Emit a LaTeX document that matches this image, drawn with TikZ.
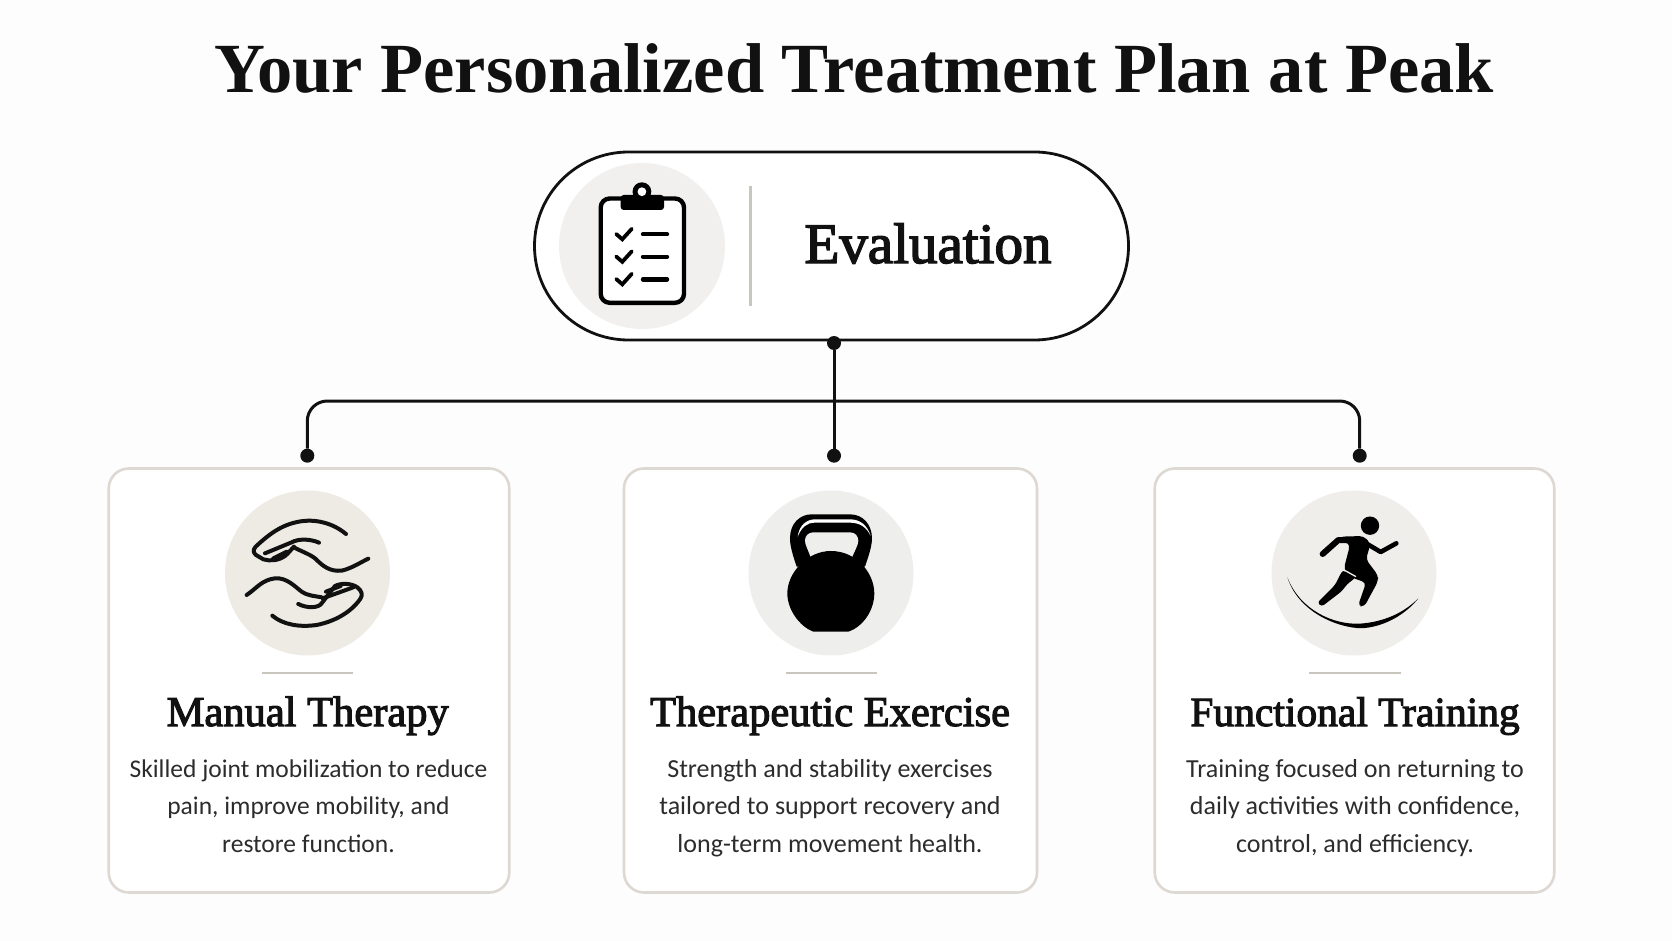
\documentclass[tikz,border=0pt]{standalone}
\usepackage{fontspec}
\newfontfamily\titlefont{Liberation Serif Bold}
\newfontfamily\ttlfont{Liberation Serif}[FakeBold=2.6]
\newfontfamily\bodyfont{Carlito}
\definecolor{ink}{HTML}{111111}
\definecolor{bodyink}{HTML}{2C2C2C}
\definecolor{cardline}{HTML}{DDD8D2}
\definecolor{rulecol}{HTML}{C9C6BF}
\definecolor{warm}{HTML}{EEEBE5}
\definecolor{warmb}{HTML}{F0EEEA}
\definecolor{cool}{HTML}{EEEEEC}
\definecolor{coolb}{HTML}{F1F0EE}
\definecolor{page}{HTML}{FDFDFD}
\tikzset{
  card/.style={draw=cardline,line width=2.6pt,fill=white,rounded corners=20pt,inner sep=0pt,minimum height=424pt},
  disc/.style={circle,inner sep=0pt,minimum size=165pt},
  dotmark/.style={circle,fill=ink,inner sep=0pt,minimum size=14pt},
  wire/.style={draw=ink,line width=3pt},
  sep/.style={draw=rulecol,line width=2.6pt},
  headline/.style={font=\ttlfont\fontsize{42.5}{46}\selectfont,text=ink,inner sep=0pt,anchor=base},
  copy/.style={font=\bodyfont\fontsize{26}{37.5}\selectfont,text=bodyink,inner sep=0pt,anchor=base,align=center},
  handline/.style={draw=ink,line width=4pt,line cap=round,line join=round},
  boardline/.style={draw=black,line width=4.4pt,line cap=round,line join=round},
}
\begin{document}
\begin{tikzpicture}[x=1pt,y=-1pt]
\useasboundingbox[fill=page] (0,0) rectangle (1672,941);
% title
\node[font=\titlefont\fontsize{70.5}{76}\selectfont,text=ink,inner sep=0pt,anchor=base] (title) at (854,92.7) {Your Personalized Treatment Plan at Peak};
% cards
\node[card,minimum width=400.5pt] (c1) at (309,680.5) {};
\node[card,minimum width=413pt] (c2) at (830.5,680.5) {};
\node[card,minimum width=399.5pt] (c3) at (1354.5,680.5) {};
% pill
\node[draw=ink,line width=2.8pt,fill=white,rounded corners=94pt,inner sep=0pt,minimum width=594pt,minimum height=188pt] (pill) at (831.5,246) {};
\node[disc,fill=coolb,minimum size=166pt] (pdisc) at (642,246) {};
\draw[sep] (750.6,186) -- (750.6,306);
\node[font=\ttlfont\fontsize{57}{60}\selectfont,text=ink,inner sep=0pt,anchor=base] (evalt) at (928,263) {Evaluation};
% clipboard
\draw[boardline,fill=white,rounded corners=9pt] (600.7,198.5) rectangle (684,302.8);
\fill[black,rounded corners=3pt] (620.7,195) rectangle (664,210);
\fill[black] (641.9,191.7) circle [radius=9.4pt];
\fill[white] (641.9,191.7) circle [radius=4.4pt];
\foreach \yy in {0,22.5,45}{
  \draw[black,line width=3.8pt,line cap=round,line join=miter,yshift=-\yy pt] (616.2,234) -- (622.3,239.3) -- (631.8,228.8);
  \draw[black,line width=4.4pt,line cap=round,yshift=-\yy pt] (643,234.3) -- (667,234.3);
}
% connectors
\coordinate (bus) at (834,401);
\node[dotmark] (d0) at (834,343) {};
\node[dotmark] (d1) at (307.3,455.7) {};
\node[dotmark] (d2) at (834,455.7) {};
\node[dotmark] (d3) at (1359.7,455.7) {};
\draw[wire] (d0) -- (d2);
\draw[wire,rounded corners=20pt] (d1) -- (d1|-bus) -- (d3|-bus) -- (d3);
% discs
\node[disc,fill=warm] (i1) at (307.5,573) {};
\node[disc,fill=cool] (i2) at (831,573) {};
\node[disc,fill=warmb] (i3) at (1354,573) {};
% hands
\begin{scope}[shift={(220,490)},x=0.3333pt,y=-0.3333pt]
\draw[handline] (378,132) .. controls (340,100) and (290,88) .. (250,93) .. controls (190,100) and (150,130) .. (107,170) .. controls (98,180) and (100,188) .. (108,195) -- (130,208) .. controls (150,214) and (175,212) .. (195,198) .. controls (205,190) and (212,180) .. (222,170);
\draw[handline] (135,190) -- (215,157) .. controls (235,146) and (270,146) .. (297,158);
\draw[handline] (222,172) .. controls (245,185) and (265,190) .. (285,205) .. controls (310,230) and (330,245) .. (365,242) .. controls (395,235) and (420,218) .. (445,206);
\draw[handline] (160,205) -- (200,185);
\draw[handline] (80,315) .. controls (110,295) and (125,270) .. (165,265) .. controls (200,262) and (225,290) .. (245,305) .. controls (265,318) and (285,318) .. (305,322);
\draw[handline] (235,342) .. controls (260,355) and (295,355) .. (305,340) -- (345,288) .. controls (365,278) and (395,280) .. (412,292) .. controls (425,302) and (430,315) .. (420,328) .. controls (390,370) and (340,395) .. (290,405) .. controls (240,412) and (190,405) .. (157,377);
\draw[handline] (308,325) -- (400,292);
\draw[handline] (318,305) -- (362,288);
\end{scope}
% kettlebell
\begin{scope}[shift={(610,450)},x=0.3333pt,y=-0.3333pt]
\fill[black] (560,350) .. controls (550,320) and (540,290) .. (540,265) .. controls (540,220) and (570,193) .. (605,193) -- (720,193) .. controls (760,193) and (786,225) .. (786,265) .. controls (786,290) and (775,320) .. (765,350) -- cycle;
\fill[cool] (603,325) .. controls (595,300) and (585,285) .. (585,272) .. controls (585,258) and (595,247) .. (610,247) -- (720,247) .. controls (735,247) and (745,258) .. (745,272) .. controls (745,285) and (735,300) .. (725,325) -- cycle;
\fill[white] (563,260) .. controls (568,225) and (590,208) .. (615,208) -- (720,208) .. controls (750,208) and (772,225) .. (782,258) .. controls (770,232) and (750,218) .. (720,218) -- (615,218) .. controls (590,218) and (575,232) .. (563,260) -- cycle;
\fill[black] (610,545) -- (715,545) .. controls (760,530) and (793,480) .. (793,430) .. controls (793,370) and (740,303) .. (663,303) .. controls (590,303) and (532,370) .. (532,430) .. controls (532,480) and (570,530) .. (610,545) -- cycle;
\end{scope}
% runner
\begin{scope}[shift={(1270,490)},x=0.3333pt,y=-0.3333pt]
\fill[black] (300,107) circle [radius=9.2pt];
\draw[black,line width=6pt,line cap=round,line join=round] (158,192) -- (205,150) -- (270,152);
\draw[black,line width=4.6pt,line cap=round,line join=round] (285,158) -- (332,186) -- (379,160);
\fill[black,rounded corners=3pt] (218,240) -- (258,262) -- (232,282) -- (215,304) -- (155,350) -- (142,338) -- (195,285) -- cycle;
\fill[black,rounded corners=4pt] (222,234) -- (240,165) -- (208,140) -- (280,138) -- (302,160) -- (288,208) -- (324,256) -- (324,274) -- (283,350) -- (264,348) -- (288,278) -- (232,258) -- cycle;
\draw[warmb,line width=1.3pt] (222,240) -- (258,260);
\fill[black] (52,262) .. controls (90,380) and (230,420) .. (285,414) .. controls (350,407) and (410,370) .. (445,325) .. controls (400,370) and (340,396) .. (270,401) .. controls (190,405) and (90,360) .. (52,262) -- cycle;
\end{scope}
% rules
\draw[sep] (262,673) -- (353,673);
\draw[sep] (785.7,673) -- (876.7,673);
\draw[sep] (1309,673) -- (1401,673);
% headings
\node[headline] (h1) at (307.7,726) {Manual Therapy};
\node[headline] (h2) at (830,726) {Therapeutic Exercise};
\node[headline,font=\ttlfont\fontsize{41.5}{46}\selectfont] (h3) at (1355,726) {Functional Training};
% text
\node[copy,font=\bodyfont\fontsize{25.5}{37.5}\selectfont] (t1) at (308.5,852) {Skilled joint mobilization to reduce\\pain, improve mobility, and\\restore function.};
\node[copy] (t2) at (830,852) {Strength and stability exercises\\tailored to support recovery and\\long-term movement health.};
\node[copy] (t3) at (1355,852) {Training focused on returning to\\daily activities with confidence,\\control, and efficiency.};
\end{tikzpicture}
\end{document}
